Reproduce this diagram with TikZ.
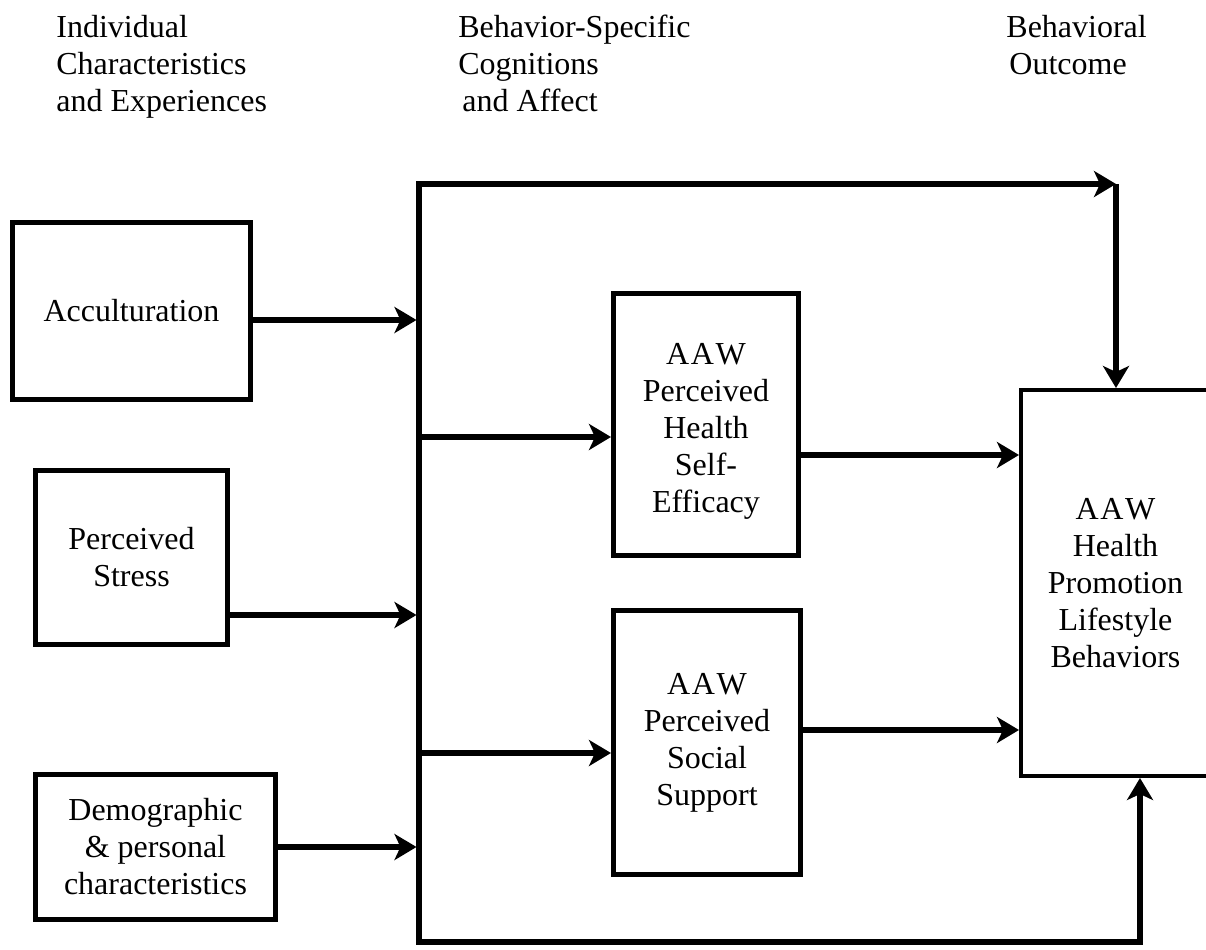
\documentclass[tikz,border=0pt]{standalone}
\usepackage{fontspec}
\setmainfont{Liberation Serif}
\usetikzlibrary{arrows.meta}
\begin{document}
\begin{tikzpicture}[x=0.5pt,y=-0.5pt,
  box/.style={draw=black, line width=2.5pt, fill=white, align=center, inner sep=0pt},
  conn/.style={line width=2.75pt},
  tip/.style={-{Stealth[length=11pt,width=13pt,inset=3pt]}},
  bothtip/.style={{Stealth[length=11pt,width=13pt,inset=3pt]}-{Stealth[length=11pt,width=13pt,inset=3pt]}},
  hdr/.style={align=left, anchor=north west, inner sep=0pt},
  every node/.append style={font=\fontsize{16}{18.5}\selectfont}]
\useasboundingbox (0,0) rectangle (1206,949);

% column headers
\node[hdr] (h1) at (56,15) {Individual\\Characteristics\\and Experiences};
\node[hdr] (h2) at (458,15) {Behavior-Specific\\Cognitions\\\hspace{2pt}and Affect};
\node[hdr] (h3) at (1006,15) {Behavioral\\\hspace{1.5pt}Outcome};

% boxes
\node[box, minimum width=119pt, minimum height=88.5pt] (acc) at (131.5,311) {Acculturation};
\node[box, minimum width=96pt, minimum height=87pt] (str) at (131.5,557.5) {Perceived\\Stress};
\node[box, minimum width=120pt, minimum height=72.5pt] (dem) at (155.5,847) {Demographic\\\& personal\\characteristics};
\node[box, minimum width=92.5pt, minimum height=131pt] (se) at (706,424.5) {\rule{0pt}{17pt}A\kern0.8pt A\kern0.8pt W\\Perceived\\Health\\Self-\\Efficacy};
\node[box, minimum width=93.5pt, minimum height=132pt] (ss) at (707,742.5) {A\kern0.8pt A\kern0.8pt W\\Perceived\\Social\\Support};
\node[box, line width=2pt, minimum width=94.5pt, minimum height=193pt] (out) at (1115.5,583) {A\kern0.8pt A\kern0.8pt W\\Health\\Promotion\\Lifestyle\\Behaviors};

% bus
\coordinate (tl) at (419,184);
\coordinate (bl) at (419,942);
\coordinate (tr) at (1116,184);
\coordinate (br) at (1140,942);
\draw[conn, bothtip] (tr) -- (tl) -- (bl) -- (br) -- (out.south -| br);
\draw[conn, tip] (tr) -- (out.north -| tr);

% inputs to bus
\coordinate (i1) at (416.5,320);
\coordinate (i2) at (416.5,615);
\coordinate (i3) at (416.5,847);
\draw[conn, tip] (acc.east |- i1) -- (i1);
\draw[conn, tip] (str.east |- i2) -- (i2);
\draw[conn, tip] (dem.east |- i3) -- (i3);

% branches
\coordinate (b1) at (419,437);
\coordinate (b2) at (419,753);
\draw[conn, tip] (b1) -- (se.west |- b1);
\draw[conn, tip] (b2) -- (ss.west |- b2);

% outputs
\coordinate (o1) at (0,455);
\coordinate (o2) at (0,730);
\draw[conn, tip] (se.east |- o1) -- (out.west |- o1);
\draw[conn, tip] (ss.east |- o2) -- (out.west |- o2);
\end{tikzpicture}
\end{document}
